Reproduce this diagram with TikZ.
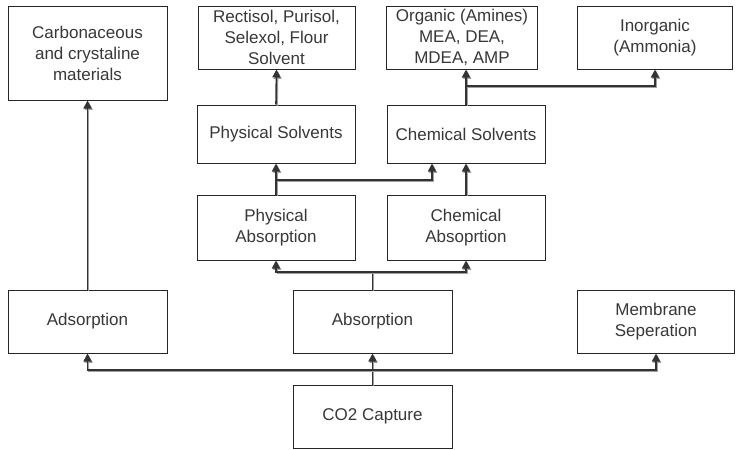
\documentclass[tikz,border=0pt]{standalone}
\usepackage{fontspec}
\setmainfont{Liberation Sans}
\usetikzlibrary{arrows.meta,calc}
\definecolor{linec}{HTML}{333333}
\definecolor{shadc}{HTML}{A0A0A0}
\tikzset{
  box/.style={draw=black!85, line width=1pt, fill=white, align=center,
    font=\fontsize{17}{21}\selectfont, text=black!78, inner sep=0pt},
  arr/.style={draw=linec, line width=1.6pt, -{Triangle[length=8pt,width=8pt]},
    preaction={draw=shadc, line width=1.4pt, transform canvas={shift={(1.2pt,-1.4pt)}}}},
  ln/.style={draw=linec, line width=1.6pt,
    preaction={draw=shadc, line width=1.4pt, transform canvas={shift={(1.2pt,-1.4pt)}}}}
}
\begin{document}
\begin{tikzpicture}[x=1pt,y=-1pt]
\useasboundingbox (0,0) rectangle (737,450);
% top row
\node[box, minimum width=159, minimum height=94] (carb) at (87.5,53) {Carbonaceous\\and crystaline\\materials};
\node[box, minimum width=157, minimum height=63] (rect) at (276.5,37.5) {Rectisol, Purisol,\\Selexol, Flour\\Solvent};
\node[box, minimum width=151, minimum height=63] (org) at (462,37.5) {Organic (Amines)\\MEA, DEA,\\MDEA, AMP};
\node[box, minimum width=155, minimum height=63] (inorg) at (655,37.5) {Inorganic\\(Ammonia)};
% solvents
\node[box, minimum width=158, minimum height=58] (physsol) at (276,134) {Physical Solvents};
\node[box, minimum width=158, minimum height=58] (chemsol) at (466,134) {Chemical Solvents};
% absorption types
\node[box, minimum width=158, minimum height=65] (physabs) at (276,227.5) {Physical\\Absorption};
\node[box, minimum width=158, minimum height=65] (chemabs) at (466,227.5) {Chemical\\Absoprtion};
% middle row
\node[box, minimum width=159, minimum height=63] (ads) at (87.5,321.5) {Adsorption};
\node[box, minimum width=159, minimum height=63] (abs) at (372.5,321.5) {Absorption};
\node[box, minimum width=157, minimum height=63] (mem) at (656,321.5) {Membrane\\Seperation};
% root
\node[box, minimum width=159, minimum height=63] (co2) at (372.5,416.5) {CO2 Capture};
% junction coordinates
\coordinate (jb) at (372.5,370);
\coordinate (ja) at (372.5,272);
\coordinate (jp) at (276,180);
\coordinate (jo) at (466,86);
% connectors bottom
\draw[arr] (co2.north) -- (abs.south);
\draw[arr] (jb) -| (ads.south);
\draw[arr] (jb) -| (mem.south);
\draw[arr] (ads.north) -- (carb.south);
% absorption branch
\draw[ln] (abs.north) -- (ja);
\draw[arr] (ja) -| (physabs.south);
\draw[arr] (ja) -| (chemabs.south);
% solvents
\draw[arr] (physabs.north) -- (physsol.south);
\draw[arr] (jp) -| ([xshift=-34pt]chemsol.south);
\draw[arr] (chemabs.north) -- (chemsol.south);
\draw[arr] (physsol.north) -- (rect.south);
\draw[arr] (chemsol.north) -- (chemsol.north |- org.south);
\draw[arr] (jo) -| (inorg.south);
\end{tikzpicture}
\end{document}
